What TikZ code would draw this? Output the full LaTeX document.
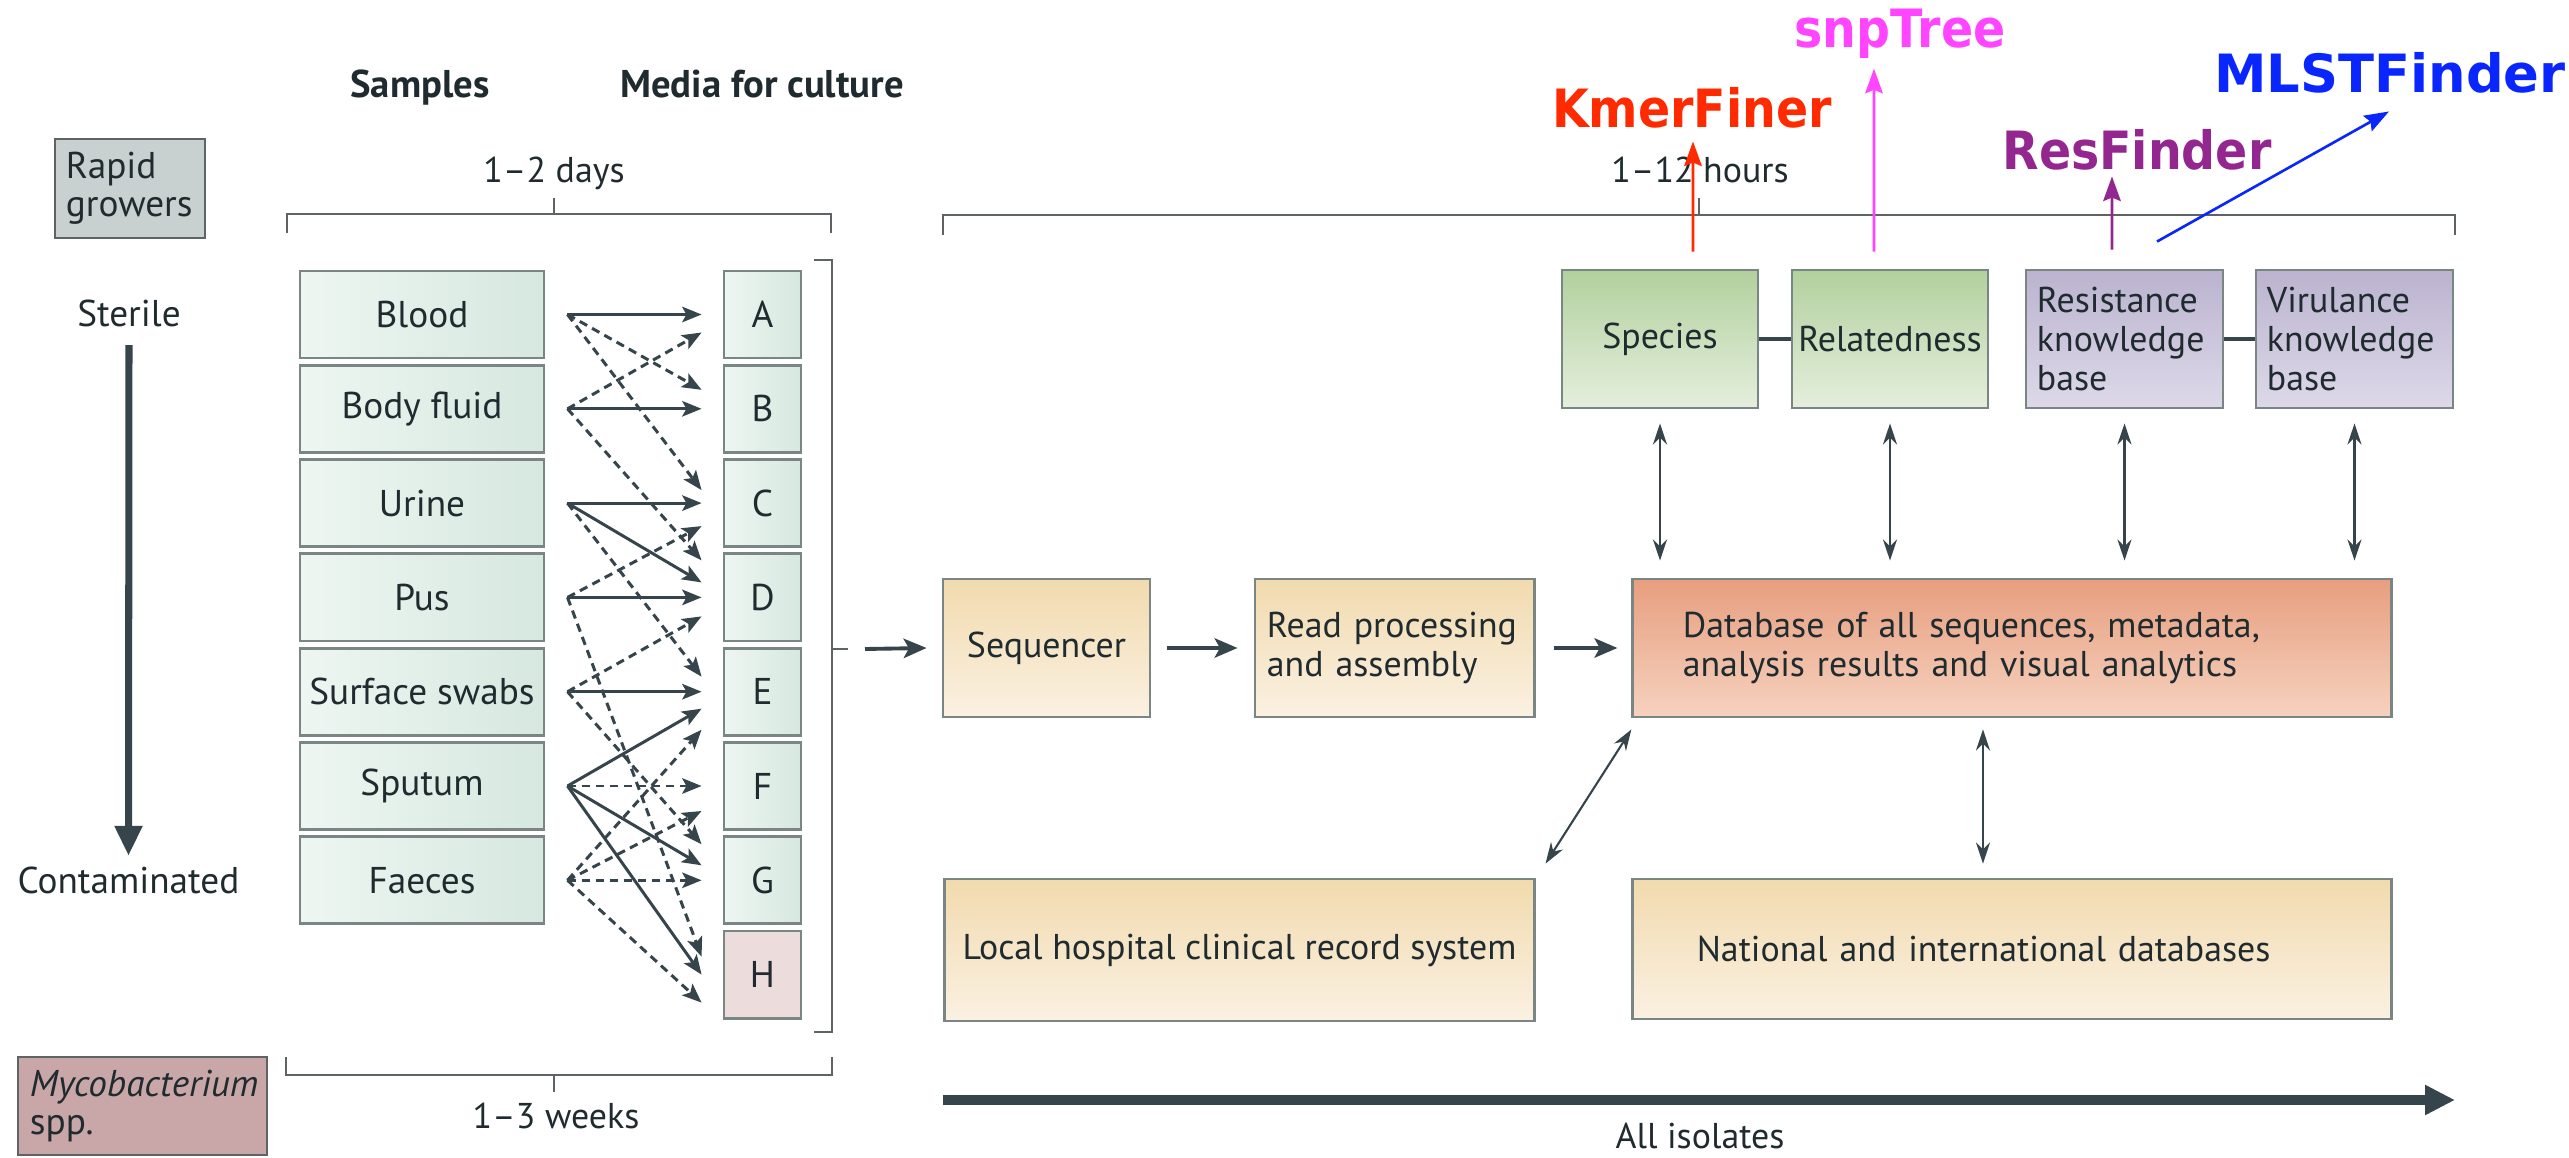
\documentclass[tikz,border=0pt]{standalone}
\usepackage{fontspec}
\setmainfont{PT Sans}
\newfontfamily\labfont[FakeStretch=0.9]{DejaVu Sans}
\newfontfamily\labfontw{DejaVu Sans}
\usetikzlibrary{arrows.meta}
\definecolor{ink}{HTML}{35454B}
\definecolor{txt}{HTML}{1F2B2F}
\definecolor{brk}{HTML}{5E6466}
\definecolor{bline}{HTML}{7A8684}
\definecolor{mintL}{HTML}{EEF6F2}
\definecolor{mintR}{HTML}{D6E8E0}
\definecolor{pinkH}{HTML}{EDDCDC}
\definecolor{rapidc}{HTML}{C8D1D0}
\definecolor{mycoc}{HTML}{C9A7A8}
\definecolor{grT}{HTML}{B2D09E}
\definecolor{grB}{HTML}{E5EFDD}
\definecolor{laT}{HTML}{BBB3CF}
\definecolor{laB}{HTML}{DDD9E9}
\definecolor{beT}{HTML}{F1DAAE}
\definecolor{beB}{HTML}{FBF1E2}
\definecolor{saT}{HTML}{E79E7F}
\definecolor{saB}{HTML}{F6D2BF}
\definecolor{kred}{HTML}{FF2A00}
\definecolor{kmag}{HTML}{FF45FF}
\definecolor{kpur}{HTML}{93278F}
\definecolor{kblu}{HTML}{0A26FF}
\newcommand\fs{\fontsize{10.2}{11}\selectfont}
\newcommand\fl{\fontsize{10.6}{11}\selectfont}
\newcommand\lab{\labfont\bfseries\fontsize{15}{15}\selectfont}
\newcommand\labw{\labfontw\bfseries\fontsize{15}{15}\selectfont}
\newcommand\marr[4]{\draw[#1] ([xshift=0.22cm]#2.east) -- ([xshift=-0.21cm,yshift=#4]#3.west);}
\begin{document}
\begin{tikzpicture}[x=0.01cm,y=-0.01cm,
  font=\fs, text=txt,
  sbox/.style={draw=bline, line width=0.8pt, left color=mintL, right color=mintR, minimum width=2.44cm, minimum height=0.87cm, inner sep=0pt, font=\fl},
  mbox/.style={sbox, minimum width=0.77cm},
  rbox/.style={draw=bline, line width=0.8pt, minimum height=1.38cm, inner sep=0pt},
  grn/.style={rbox, top color=grT, bottom color=grB, minimum width=1.96cm},
  lav/.style={rbox, top color=laT, bottom color=laB, text width=1.75cm, inner xsep=0.11cm, align=left},
  beige/.style={rbox, top color=beT, bottom color=beB},
  dbbox/.style={rbox, top color=saT, bottom color=saB, text width=6.58cm, inner xsep=0.5cm, align=left},
  plain/.style={anchor=base, inner sep=0pt},
  sol/.style={draw=ink, line width=0.85pt, -{Stealth[length=5.5pt,width=4.4pt,inset=1.2pt]}},
  das/.style={sol, dash pattern=on 2.4pt off 1.6pt},
  brace/.style={draw=brk, line width=0.8pt},
  vdbl/.style={draw=ink, line width=0.6pt, {Stealth[length=6pt,width=4pt]}-{Stealth[length=6pt,width=4pt]}},
  harr/.style={draw=ink, line width=1.1pt, -{Stealth[length=6.5pt,width=5.5pt,inset=1.5pt]}},
  carr/.style={line width=0.75pt, -{Stealth[length=7pt,width=5pt,inset=1pt]}}
]
\useasboundingbox (0,0) rectangle (2569,1158);

% headers
\node[plain, font=\fontsize{11}{12}\selectfont\bfseries] (hs) at (420,98) {Samples};
\node[plain, font=\fontsize{11}{12}\selectfont\bfseries] (hm) at (762,98) {Media for culture};

% side boxes and labels
\node[draw=brk, line width=0.8pt, fill=rapidc, text width=1.28cm, inner xsep=0.11cm, align=left, minimum height=0.99cm, font=\fontsize{10.6}{10.8}\selectfont] (rg) at (130,188.5) {Rapid\\growers};
\node[draw=brk, line width=0.8pt, fill=mycoc, text width=2.25cm, inner xsep=0.12cm, align=left, minimum height=0.98cm, font=\fontsize{10.6}{10.8}\selectfont] (my) at (142.5,1106) {\textit{Mycobacterium}\\spp.};
\node[plain, font=\fl] (ster) at (129,327) {Sterile};
\node[plain, font=\fl] (cont) at (128.5,893) {Contaminated};
\draw[draw=ink, line width=2pt, -{Triangle[length=8.5pt,width=7.5pt]}] ([yshift=-0.17cm]ster.south) -- ([yshift=0.1cm]cont.north);

% samples
\node[sbox] (s1) at (422,314.5) {Blood};
\node[sbox] (s2) at (422,408.8) {Body fluid};
\node[sbox] (s3) at (422,503.1) {Urine};
\node[sbox] (s4) at (422,597.4) {Pus};
\node[sbox] (s5) at (422,691.7) {Surface swabs};
\node[sbox] (s6) at (422,786) {Sputum};
\node[sbox] (s7) at (422,880.3) {Faeces};
% media
\node[mbox] (mA) at (762.5,314.5) {A};
\node[mbox] (mB) at (762.5,408.8) {B};
\node[mbox] (mC) at (762.5,503.1) {C};
\node[mbox] (mD) at (762.5,597.4) {D};
\node[mbox] (mE) at (762.5,691.7) {E};
\node[mbox] (mF) at (762.5,786) {F};
\node[mbox] (mG) at (762.5,880.3) {G};
\node[mbox, left color=pinkH, right color=pinkH] (mH) at (762.5,974.6) {H};

% sample -> media arrows (dashed first, solid on top)
\marr{das}{s1}{mB}{0.19cm}
\marr{das}{s1}{mC}{0.13cm}
\marr{das}{s2}{mA}{-0.18cm}
\marr{das}{s2}{mD}{0.37cm}
\marr{das}{s3}{mE}{0.15cm}
\marr{das}{s4}{mC}{-0.23cm}
\marr{das}{s4}{mH}{0.18cm}
\marr{das}{s5}{mD}{-0.19cm}
\marr{das}{s5}{mG}{0.36cm}
\marr{das}{s6}{mF}{0cm}
\marr{das}{s7}{mE}{-0.38cm}
\marr{das}{s7}{mF}{-0.25cm}
\marr{das}{s7}{mG}{0cm}
\marr{das}{s7}{mH}{-0.28cm}
\marr{sol}{s1}{mA}{0cm}
\marr{sol}{s2}{mB}{0cm}
\marr{sol}{s3}{mC}{0cm}
\marr{sol}{s3}{mD}{0.15cm}
\marr{sol}{s4}{mD}{0cm}
\marr{sol}{s5}{mE}{0cm}
\marr{sol}{s6}{mE}{-0.17cm}
\marr{sol}{s6}{mG}{0.15cm}
\marr{sol}{s6}{mH}{0cm}

% left braces
\draw[brace] (287,233) -- (287,214) -- (831,214) -- (831,233);
\draw[brace] (554,214) -- (554,198);
\node[plain] (d12) at (554,183) {1–2 days};
\draw[brace] (286,1057) -- (286,1075) -- (832,1075) -- (832,1057);
\draw[brace] (554,1075) -- (554,1092);
\node[plain] (w13) at (556,1128) {1–3 weeks};
\draw[brace] (814,260) -- (832,260) -- (832,1032) -- (814,1032);
\draw[brace] (832,649) -- (848,649);

% right part
\node[beige, minimum width=2.07cm] (seq) at (1046.5,648) {Sequencer};
\node[beige, text width=2.55cm, inner xsep=0.12cm, align=left] (read) at (1394.5,648) {Read processing\\and assembly};
\node[dbbox] (db) at (2012,648) {Database of all sequences, metadata,\\analysis results and visual analytics};
\node[beige, minimum width=5.89cm, minimum height=1.42cm] (loc) at (1239.5,950) {Local hospital clinical record system};
\node[beige, text width=6.3cm, inner xsep=0.64cm, align=left, minimum height=1.40cm] (nat) at (2012,949) {National and international databases};

\coordinate (bk) at (865,649);
\draw[harr] (bk) -- ([xshift=-0.15cm]seq.west);
\draw[harr] ([xshift=0.16cm]seq.east) -- ([xshift=-0.16cm]read.west);
\draw[harr] ([xshift=0.18cm]read.east) -- ([xshift=-0.14cm]db.west);

\node[grn] (sp) at (1660,339) {Species};
\node[grn] (rel) at (1890,339) {Relatedness};
\node[lav] (res) at (2124.5,339) {Resistance\\knowledge\\base};
\node[lav] (vir) at (2354.5,339) {Virulance\\knowledge\\base};
\draw[draw=ink, line width=1.4pt] (sp) -- (rel);
\draw[draw=ink, line width=1.4pt] (res) -- (vir);

\foreach \b in {sp,rel,res,vir}{
  \draw[vdbl] ([yshift=-0.14cm]\b.south) -- ([yshift=0.17cm]\b.south |- db.north);
}
\draw[vdbl] ([yshift=-0.11cm]db.south west) -- ([shift={(0.1cm,0.14cm)}]loc.north east);
\draw[vdbl] ([xshift=-0.29cm,yshift=-0.11cm]db.south) -- ([xshift=-0.29cm,yshift=0.14cm]nat.north);

% right brace
\draw[brace] (943,235) -- (943,215) -- (2455,215) -- (2455,235);
\draw[brace] (1699,215) -- (1699,198);
\node[plain] (h112) at (1700,183) {1–12 hours};

% all isolates
\coordinate (ai0) at (943,1100);
\coordinate (ai1) at (2455,1100);
\draw[draw=ink, line width=2.9pt, -{Triangle[length=8.5pt,width=8pt]}] (ai0) -- (ai1);
\node[plain] (ail) at (1700,1148) {All isolates};

% coloured tool labels
\node[plain, font=\lab, text=kred] (kmer) at (1692,128) {KmerFiner};
\node[plain, font=\lab, text=kmag] (snp) at (1900,48) {snpTree};
\node[plain, font=\lab, text=kpur] (resf) at (2137,170) {ResFinder};
\node[plain, font=\labw, text=kblu] (mlst) at (2390,93) {MLSTFinder};
\draw[carr, kred] ([xshift=0.33cm,yshift=0.17cm]sp.north) -- ([xshift=0.01cm,yshift=-0.12cm]kmer.south);
\draw[carr, kmag] ([xshift=-0.16cm,yshift=0.17cm]rel.north) -- ([xshift=-0.26cm,yshift=-0.09cm]snp.south);
\draw[carr, kpur] ([xshift=-0.125cm,yshift=0.19cm]res.north) -- ([xshift=-0.25cm,yshift=-0.05cm]resf.south);
\draw[carr, kblu] ([xshift=0.325cm,yshift=0.27cm]res.north) -- ([xshift=-0.01cm,yshift=-0.17cm]mlst.south);
\end{tikzpicture}
\end{document}
